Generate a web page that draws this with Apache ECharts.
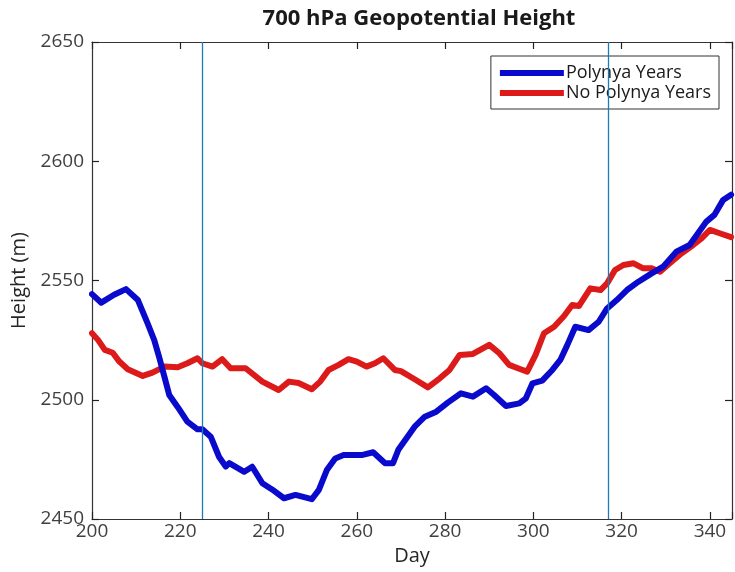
<!DOCTYPE html>
<html>
<head>
<meta charset="utf-8">
<script src="https://cdn.jsdelivr.net/npm/echarts@6/dist/echarts.min.js"></script>
<style>
  html, body { margin: 0; padding: 0; background: #fff; }
  #chart { width: 735px; height: 572px; }
</style>
</head>
<body>
<div id="chart"></div>
<script>
// 700 hPa geopotential height, days 200-345
const polynyaDays = [200, 202.1, 205, 207.7, 210.4, 212.6, 214.1, 215.2, 216.4, 217.5, 219.4, 221.6, 223.9, 225, 226.9, 228.8, 230.3, 231.1, 234.5, 236.3, 238.6, 240.8, 243.5, 246.1, 249.8, 251.4, 253.2, 255.1, 257, 261.1, 263.7, 266.4, 268.2, 269.4, 273.1, 275.4, 278, 280.6, 283.6, 286.3, 289.3, 291.1, 293.8, 296.8, 298.3, 299.8, 302, 304.3, 306.1, 307.7, 309.5, 312.5, 314.8, 316.7, 318.9, 321.2, 323.8, 326.8, 329.4, 332.4, 335.4, 337.3, 339.2, 341, 343, 344.8];
const polynyaHeights = [2544.3, 2540.7, 2544, 2546.4, 2541.8, 2532, 2525, 2518, 2509.7, 2502, 2497, 2490.8, 2487.6, 2487.6, 2484.5, 2476, 2472, 2473.4, 2469.8, 2471.9, 2465, 2462.4, 2458.7, 2460.1, 2458.3, 2462.2, 2470.5, 2475.4, 2476.8, 2476.8, 2478, 2473.4, 2473.4, 2479, 2488.7, 2492.9, 2495, 2498.8, 2502.7, 2501.3, 2504.8, 2502, 2497.4, 2498.5, 2500.6, 2506.9, 2508, 2512.5, 2516.7, 2523, 2530.6, 2529.2, 2532.7, 2538.3, 2541.8, 2546, 2549.5, 2553, 2555.8, 2562.1, 2564.9, 2569.8, 2574.7, 2577.5, 2583.8, 2586];

const noPolynyaDays = [200, 201.4, 202.9, 204.7, 206.2, 208.1, 211.5, 213.7, 216.4, 219.4, 221.6, 223.9, 225, 227.3, 229.5, 231.4, 234.8, 238.6, 242.3, 244.6, 246.8, 249.8, 251.7, 253.6, 255.9, 258.1, 260, 262.2, 264.1, 266, 268.6, 270, 273.1, 276.1, 278.8, 281, 283.3, 286.3, 290, 292.3, 294.5, 297.1, 298.6, 300.5, 302.4, 304.7, 306.9, 308.8, 310.3, 312.9, 315.2, 316.7, 318.5, 320.4, 322.7, 324.9, 326.8, 328.7, 330.9, 333.6, 336.2, 338.1, 340, 342.2, 344.8];
const noPolynyaHeights = [2527.9, 2525, 2520.9, 2519.7, 2516, 2512.8, 2510, 2511.4, 2513.9, 2513.6, 2515.3, 2517.4, 2515.3, 2513.9, 2517, 2513.2, 2513.2, 2507.6, 2504.1, 2507.6, 2507, 2504.4, 2507.6, 2512.5, 2514.6, 2517, 2516, 2513.9, 2515.3, 2517.4, 2512.5, 2512, 2508.6, 2505.2, 2509, 2512.5, 2518.8, 2519.2, 2523, 2519.5, 2514.6, 2512.8, 2511.8, 2518.8, 2527.9, 2530.6, 2535, 2539.7, 2539.3, 2546.7, 2546, 2548.8, 2554.4, 2556.5, 2557.2, 2555.1, 2555.1, 2553.7, 2557.2, 2561.4, 2564.9, 2567.7, 2571.2, 2569.8, 2568.2];

// period boundaries (day of year)
const markerDays = [225, 317];

const xTicks = { min: 200, max: 345, step: 20 };
const yTicks = { min: 2450, max: 2650, step: 50 };

const FONT = 'Open Sans';
const INK = '#333333';

const pairs = (xs, ys) => xs.map((x, i) => [x, ys[i]]);

const chart = echarts.init(document.getElementById('chart'), null, { renderer: 'canvas' });

const tickCommon = { show: true, inside: true, length: 7, lineStyle: { color: '#222', width: 1.2 } };
const lineCommon = { show: true, lineStyle: { color: INK, width: 1.2 } };

chart.setOption({
  animation: false,
  backgroundColor: '#ffffff',
  title: {
    text: '700 hPa Geopotential Height',
    left: 414,
    textAlign: 'center',
    top: 3,
    textStyle: { fontFamily: FONT, fontWeight: 'bold', fontSize: 22, color: '#1a1a1a' }
  },
  legend: {
    orient: 'vertical',
    right: 16,
    top: 56,
    padding: [7, 8, 6, 9],
    itemGap: 0,
    itemWidth: 64,
    itemHeight: 6,
    icon: 'rect',
    borderColor: INK,
    borderWidth: 1,
    backgroundColor: '#fff',
    textStyle: { fontFamily: FONT, fontSize: 18, color: '#1a1a1a', lineHeight: 20, padding: [0, 0, 0, -3] },
    data: ['Polynya Years', 'No Polynya Years']
  },
  grid: { left: 92, right: 1, top: 42, bottom: 53 },
  xAxis: [
    {
      type: 'value', position: 'bottom',
      min: xTicks.min, max: xTicks.max, interval: xTicks.step,
      name: 'Day', nameLocation: 'middle', nameGap: 26,
      nameTextStyle: { fontFamily: FONT, fontSize: 20, color: '#262626' },
      axisLine: lineCommon, axisTick: tickCommon, splitLine: { show: false },
      axisLabel: {
        margin: 3, fontFamily: FONT, fontSize: 19, color: '#404040',
        formatter: v => (v % xTicks.step === 0 ? String(v) : '')
      }
    },
    {
      type: 'value', position: 'top',
      min: xTicks.min, max: xTicks.max, interval: xTicks.step,
      axisLine: lineCommon, axisTick: tickCommon, splitLine: { show: false },
      axisLabel: { show: false }
    }
  ],
  yAxis: [
    {
      type: 'value', position: 'left',
      min: yTicks.min, max: yTicks.max, interval: yTicks.step,
      name: 'Height (m)', nameLocation: 'middle', nameGap: 60, nameRotate: 90,
      nameTextStyle: { fontFamily: FONT, fontSize: 20, color: '#262626' },
      axisLine: lineCommon, axisTick: tickCommon, splitLine: { show: false },
      axisLabel: { margin: 8, fontFamily: FONT, fontSize: 19, color: '#404040', formatter: v => String(v) }
    },
    {
      type: 'value', position: 'right',
      min: yTicks.min, max: yTicks.max, interval: yTicks.step,
      axisLine: lineCommon, axisTick: tickCommon, splitLine: { show: false },
      axisLabel: { show: false }
    }
  ],
  series: [
    {
      name: 'Polynya Years',
      type: 'line',
      data: pairs(polynyaDays, polynyaHeights),
      showSymbol: false,
      symbol: 'none',
      z: 3,
      itemStyle: { color: '#0a0acc' },
      lineStyle: { color: '#0a0acc', width: 6, join: 'round', cap: 'round' },
      markLine: {
        silent: true,
        symbol: 'none',
        label: { show: false },
        lineStyle: { color: '#1b7cb6', width: 1.3, type: 'solid' },
        data: markerDays.map(d => ({ xAxis: d }))
      }
    },
    {
      name: 'No Polynya Years',
      type: 'line',
      data: pairs(noPolynyaDays, noPolynyaHeights),
      showSymbol: false,
      symbol: 'none',
      z: 2,
      itemStyle: { color: '#dd1a1a' },
      lineStyle: { color: '#dd1a1a', width: 6, join: 'round', cap: 'round' }
    }
  ]
});
</script>
</body>
</html>
